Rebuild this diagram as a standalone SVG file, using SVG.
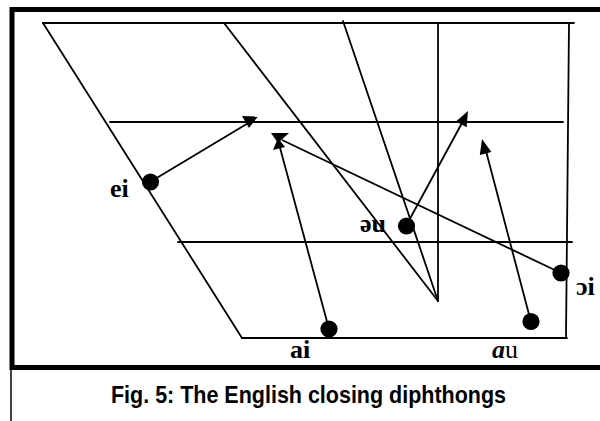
<svg xmlns="http://www.w3.org/2000/svg" width="600" height="421" viewBox="0 0 600 421">
<style>
.g{stroke:#000;stroke-width:1.8;fill:none;stroke-linecap:round}
.c{stroke:#000;stroke-width:1.8;fill:none}
.dot{fill:#000}
.lb{font-family:"Liberation Serif","Times New Roman",serif;font-weight:bold;font-size:26px;fill:#000}
.cap{font-family:"Liberation Sans",Arial,sans-serif;font-weight:bold;font-size:24px;fill:#000}
</style>
<rect x="0" y="0" width="600" height="421" fill="#fff"/>
<rect x="12" y="9.5" width="620" height="358" fill="none" stroke="#000" stroke-width="5"/>
<line x1="11" y1="370" x2="11" y2="421" stroke="#000" stroke-width="1.5"/>
<g id="chart">
<line class="g" x1="43" y1="23" x2="574" y2="23"/>
<line class="g" x1="43" y1="23" x2="242" y2="338"/>
<line class="g" x1="242" y1="338" x2="567" y2="338"/>
<line class="g" x1="110" y1="122" x2="563" y2="122"/>
<line class="g" x1="178" y1="242" x2="572" y2="242"/>
<line class="g" x1="224" y1="23" x2="438" y2="301"/>
<line class="g" x1="343" y1="21" x2="438" y2="301"/>
<line class="g" x1="438" y1="23" x2="438" y2="301"/>
<line class="g" x1="569" y1="23" x2="566" y2="338"/>
</g>
<g id="connectors">
<line class="c" x1="150" y1="182" x2="250" y2="122"/>
<polygon points="242,116 258,116.5 249,128"/>
<line class="c" x1="561" y1="273" x2="282" y2="140"/>
<polygon points="271,133 289,133 278,143"/>
<line class="c" x1="329" y1="329" x2="279" y2="144"/>
<polygon points="273,150 285,147 278,138"/>
<line class="c" x1="406" y1="226" x2="462" y2="123"/>
<polygon points="468,111 456,121.5 466.6,127.2"/>
<line class="c" x1="531" y1="322" x2="486" y2="151"/>
<polygon points="482,139 479.8,155 491.4,152"/>
</g>
<g id="ei"><circle class="dot" cx="150.5" cy="182" r="8.6"/><text class="lb" x="110" y="197">ei</text></g>
<g id="schwa-u"><circle class="dot" cx="406.5" cy="226" r="8.6"/><text class="lb" x="360" y="232">əu</text></g>
<g id="oi"><circle class="dot" cx="561" cy="273" r="8.6"/><text class="lb" x="576" y="295">ɔi</text></g>
<g id="ai"><circle class="dot" cx="329" cy="329" r="8.6"/><text class="lb" x="290" y="358">ai</text></g>
<g id="au"><circle class="dot" cx="531" cy="321.5" r="8.6"/><text class="lb" x="492" y="358"><tspan font-style="italic">a</tspan><tspan font-weight="normal">u</tspan></text></g>
<text class="cap" x="111" y="403" textLength="395" lengthAdjust="spacingAndGlyphs">Fig. 5: The English closing diphthongs</text>
</svg>
